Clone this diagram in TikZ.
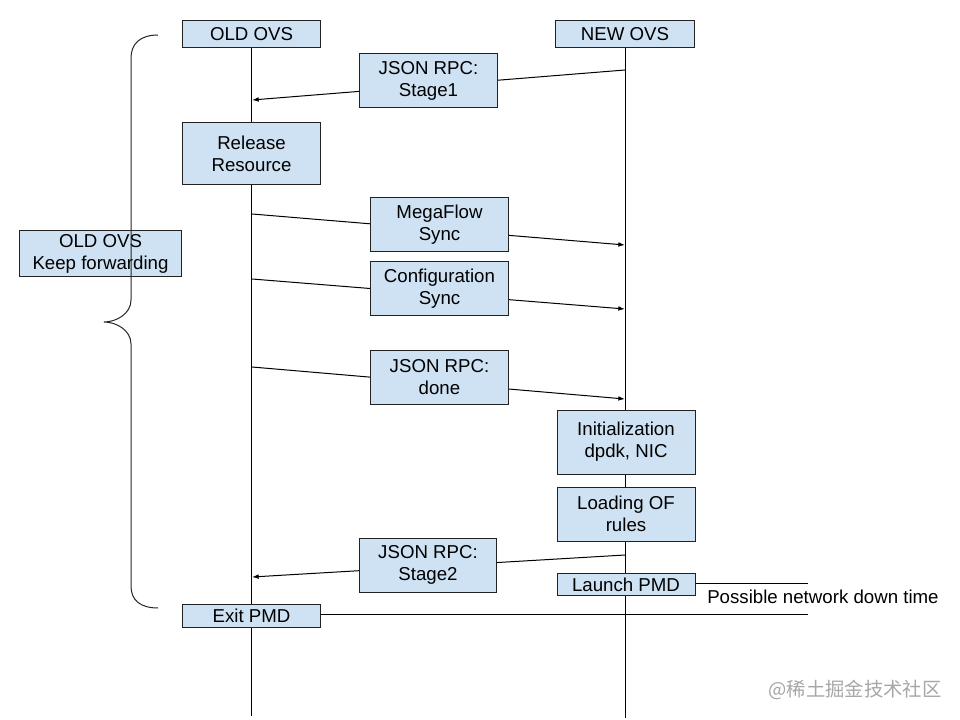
\documentclass[tikz,border=0pt]{standalone}
\usepackage{fontspec}
\setmainfont{Liberation Sans}
\newfontfamily\cjkfont{Noto Sans CJK SC}
\usepackage{tikz}
\usetikzlibrary{arrows.meta, backgrounds}
\definecolor{boxblue}{HTML}{CFE2F3}
\definecolor{boxline}{RGB}{34,34,34}

\begin{document}
\begin{tikzpicture}[
        x=0.75pt, y=-0.75pt,
        font=\fontsize{14}{16.6}\selectfont,
        box/.style = {draw=boxline, fill=boxblue, rectangle, align=center, line width=0.75pt, inner sep=1pt, minimum width=104pt},
        headbox/.style = {box, minimum height=20pt},
        msgbox/.style = {box, minimum height=40.5pt},
        lifeline/.style = {draw=black, line width=0.75pt},
        arrow/.style = {draw=black, line width=0.75pt, -{Latex[length=5pt, width=3.5pt]}}
    ]
        \useasboundingbox (0,0) rectangle (960,720);

        % Headers
        \node (oldovs) [headbox] at (251.5,34) {OLD OVS};
        \node (newovs) [headbox] at (625,34) {NEW OVS};

        % Old side
        \node (release) [box, minimum height=47pt] at (251.5,153.5) {Release\\Resource};
        \node (exitpmd) [box, minimum height=17pt] at (251.5,616) {Exit PMD};
        \node (keepfwd) [box, minimum width=122pt, minimum height=34pt] at (100.5,253.5) {OLD OVS\\Keep forwarding};

        % Messages
        \node (stage1) [msgbox, minimum width=103pt] at (428.5,80.5) {JSON RPC:\\Stage1};
        \node (megaflow) [msgbox] at (439.5,225) {MegaFlow\\Sync};
        \node (config) [msgbox, minimum height=41pt] at (439.5,288.5) {Configuration\\Sync};
        \node (done) [msgbox] at (439.5,377) {JSON RPC:\\done};
        \node (stage2) [msgbox, minimum width=103pt] at (428,565) {JSON RPC:\\Stage2};

        % New side
        \node (init) [box, minimum width=103.5pt, minimum height=48pt] at (626,442) {Initialization\\dpdk, NIC};
        \node (loadof) [box, minimum width=103.5pt, minimum height=40.5pt] at (626,514) {Loading OF\\rules};
        \node (launchpmd) [box, minimum width=103.5pt, minimum height=16.5pt] at (626,584.5) {Launch PMD};

        % Points on the lifelines
        \coordinate (oldend) at (251,716);
        \coordinate (newend) at (625,718);
        \coordinate (s1a) at (625,70);   \coordinate (s1b) at (252,100);
        \coordinate (mfa) at (252,214);  \coordinate (mfb) at (625,245);
        \coordinate (cfa) at (252,279);  \coordinate (cfb) at (625,309);
        \coordinate (dna) at (252,367);  \coordinate (dnb) at (625,399);
        \coordinate (s2a) at (625,555);  \coordinate (s2b) at (252,577);
        \coordinate (downtop) at (808,583);
        \coordinate (downbot) at (808,614);

        % Lifelines and arrows
        \begin{scope}[on background layer]
            \draw [lifeline] (oldovs.south -| oldend) -- (oldend);
            \draw [lifeline] (newovs.south -| newend) -- (newend);
            \draw [arrow] (s1a) -- (s1b);
            \draw [arrow] (mfa) -- (mfb);
            \draw [arrow] (cfa) -- (cfb);
            \draw [arrow] (dna) -- (dnb);
            \draw [arrow] (s2a) -- (s2b);
        \end{scope}

        % Down time
        \draw [lifeline] (launchpmd.east |- downtop) -- (downtop);
        \draw [lifeline] (exitpmd.east |- downbot) -- (downbot);
        \node (downtime) [anchor=west, inner sep=0pt] at (707,597) {Possible network down time};

        % Brace
        \draw [line width=0.75pt, black!85] (158,35) .. controls (140,35) and (131,44) .. (131,58)
            -- (131,300) .. controls (131,314) and (116,322) .. (104,322)
            .. controls (116,322) and (131,330) .. (131,344)
            -- (131,586) .. controls (131,600) and (140,608) .. (158,608);

        % Watermark
        \node (mark) [text=black!35, font=\cjkfont\fontsize{14.5}{16}\selectfont] at (855,690) {@稀土掘金技术社区};

    \end{tikzpicture}
\end{document}
